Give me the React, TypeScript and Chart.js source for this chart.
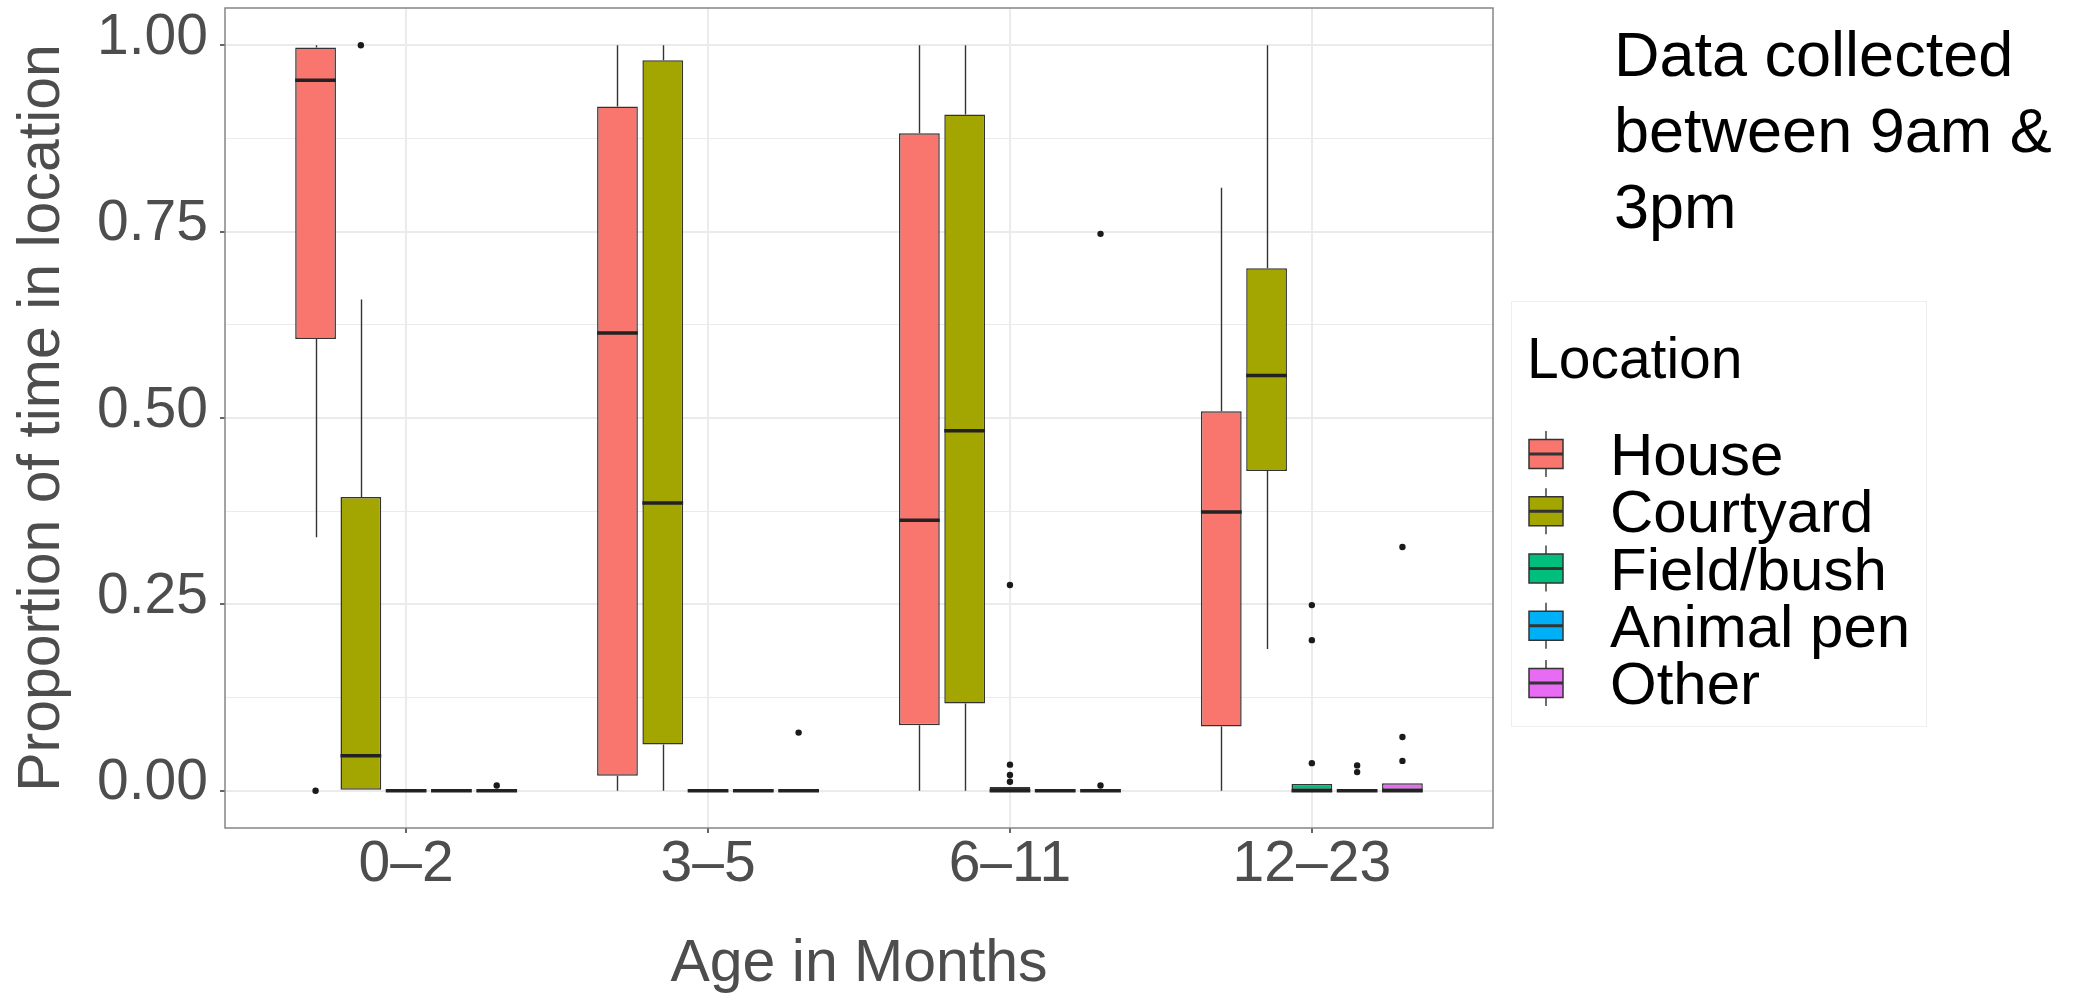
import React, { useEffect, useRef } from 'react';
import { Chart, registerables } from 'chart.js';

Chart.register(...registerables);

const AGE_GROUPS = ['0–2', '3–5', '6–11', '12–23'];
const LOCATIONS = ['House', 'Courtyard', 'Field/bush', 'Animal pen', 'Other'];
const LOCATION_COLORS = ['#F8766D', '#A3A500', '#00BF7D', '#00B0F6', '#E76BF3'];

// Box summaries per age group: [lower whisker, Q1, median, Q3, upper whisker]
const HOUSE_STATS = [
  [0.34, 0.606, 0.953, 0.997, 1.0],
  [0.0, 0.02, 0.614, 0.918, 1.0],
  [0.0, 0.088, 0.363, 0.882, 1.0],
  [0.0, 0.086, 0.374, 0.509, 0.809],
];
const COURTYARD_STATS = [
  [0.0, 0.0, 0.047, 0.394, 0.659],
  [0.0, 0.062, 0.386, 0.98, 1.0],
  [0.0, 0.117, 0.483, 0.907, 1.0],
  [0.19, 0.429, 0.557, 0.701, 1.0],
];
const FIELD_BUSH_STATS = [
  [0, 0, 0, 0, 0],
  [0, 0, 0, 0, 0],
  [0, 0, 0, 0.005, 0.005],
  [0, 0, 0, 0.009, 0.009],
];
const ANIMAL_PEN_STATS = [
  [0, 0, 0, 0, 0],
  [0, 0, 0, 0, 0],
  [0, 0, 0, 0, 0],
  [0, 0, 0, 0, 0],
];
const OTHER_STATS = [
  [0, 0, 0, 0, 0],
  [0, 0, 0, 0, 0],
  [0, 0, 0, 0, 0],
  [0, 0, 0, 0.01, 0.01],
];

// Outlying observations per age group
const HOUSE_OUTLIERS = [[0], [], [], []];
const COURTYARD_OUTLIERS = [[1.0], [], [], []];
const FIELD_BUSH_OUTLIERS = [[], [], [0.276, 0.035, 0.021, 0.012], [0.249, 0.202, 0.037]];
const ANIMAL_PEN_OUTLIERS = [[], [], [], [0.034, 0.025]];
const OTHER_OUTLIERS = [[0.007], [0.078], [0.747, 0.007], [0.327, 0.072, 0.04]];

const Y_MAJOR_TICKS = [0, 0.25, 0.5, 0.75, 1];
const Y_MINOR_TICKS = [0.125, 0.375, 0.625, 0.875];

const X_TITLE = 'Age in Months';
const Y_TITLE = 'Proportion of time in location';
const LEGEND_TITLE = 'Location';
const NOTE_LINES = ['Data collected', 'between 9am &', '3pm'];

const ALL_STATS = [HOUSE_STATS, COURTYARD_STATS, FIELD_BUSH_STATS, ANIMAL_PEN_STATS, OTHER_STATS];
const ALL_OUTLIERS = [HOUSE_OUTLIERS, COURTYARD_OUTLIERS, FIELD_BUSH_OUTLIERS, ANIMAL_PEN_OUTLIERS, OTHER_OUTLIERS];

const FONT = '"Liberation Sans", Arial, Helvetica, sans-serif';
const DODGE_STEP = 0.15;
const BOX_FILL = 0.9;
const OUTLINE = '#333333';

const dodgedX = (groupIdx: number, locIdx: number) =>
  groupIdx + 1 + (locIdx - (LOCATIONS.length - 1) / 2) * DODGE_STEP;

// whiskers under the boxes, medians on top of each box dataset
const boxWhiskerPlugin = {
  id: 'boxWhiskers',
  beforeDatasetsDraw(chart: any) {
    const { ctx, chartArea, scales } = chart;
    ctx.save();
    ctx.beginPath();
    ctx.rect(chartArea.left, chartArea.top, chartArea.right - chartArea.left, chartArea.bottom - chartArea.top);
    ctx.clip();
    ctx.strokeStyle = OUTLINE;
    ctx.lineWidth = 1.4;
    chart.data.datasets.forEach((ds: any, di: number) => {
      if (!ds.stats) return;
      const meta = chart.getDatasetMeta(di);
      meta.data.forEach((bar: any, i: number) => {
        const [lo, q1, , q3, hi] = ds.stats[i];
        const x = Math.round(bar.x) + 0.5;
        ctx.beginPath();
        ctx.moveTo(x, scales.y.getPixelForValue(lo));
        ctx.lineTo(x, scales.y.getPixelForValue(q1));
        ctx.moveTo(x, scales.y.getPixelForValue(q3));
        ctx.lineTo(x, scales.y.getPixelForValue(hi));
        ctx.stroke();
      });
    });
    ctx.restore();
  },
  afterDatasetDraw(chart: any, args: any) {
    const ds = chart.data.datasets[args.index];
    if (!ds.stats) return;
    const { ctx, scales } = chart;
    ctx.save();
    ctx.strokeStyle = '#222222';
    ctx.lineWidth = 3.5;
    args.meta.data.forEach((bar: any, i: number) => {
      const yMed = scales.y.getPixelForValue(ds.stats[i][2]);
      ctx.beginPath();
      ctx.moveTo(bar.x - bar.width / 2, yMed);
      ctx.lineTo(bar.x + bar.width / 2, yMed);
      ctx.stroke();
    });
    ctx.restore();
  },
};

// panel frame, key and side note
const decorPlugin = {
  id: 'decor',
  afterDraw(chart: any) {
    const { ctx, chartArea } = chart;
    ctx.save();
    ctx.strokeStyle = '#858585';
    ctx.lineWidth = 1.5;
    ctx.strokeRect(chartArea.left, chartArea.top, chartArea.right - chartArea.left, chartArea.bottom - chartArea.top);

    // legend
    const lx = 1511;
    const ly = 301;
    ctx.strokeStyle = '#eeeeee';
    ctx.lineWidth = 1;
    ctx.strokeRect(lx + 0.5, ly + 0.5, 415, 425);
    ctx.fillStyle = '#000000';
    ctx.textAlign = 'left';
    ctx.textBaseline = 'alphabetic';
    ctx.font = `57px ${FONT}`;
    ctx.fillText(LEGEND_TITLE, lx + 16, ly + 77);

    const boxes = chart.data.datasets.filter((d: any) => d.stats);
    boxes.forEach((d: any, i: number) => {
      const cy = 454 + i * 57.25;
      const kx = 1529;
      const kw = 34;
      const kh = 29;
      ctx.strokeStyle = OUTLINE;
      ctx.lineWidth = 1.4;
      ctx.beginPath();
      ctx.moveTo(kx + kw / 2, cy - 23);
      ctx.lineTo(kx + kw / 2, cy + 23);
      ctx.stroke();
      ctx.fillStyle = d.backgroundColor;
      ctx.fillRect(kx, cy - kh / 2, kw, kh);
      ctx.lineWidth = 1.5;
      ctx.strokeRect(kx, cy - kh / 2, kw, kh);
      ctx.lineWidth = 3;
      ctx.beginPath();
      ctx.moveTo(kx, cy);
      ctx.lineTo(kx + kw, cy);
      ctx.stroke();
      ctx.fillStyle = '#000000';
      ctx.font = `60px ${FONT}`;
      ctx.fillText(d.label, 1610, cy + 21);
    });

    // note
    ctx.font = `63px ${FONT}`;
    ctx.fillStyle = '#000000';
    NOTE_LINES.forEach((line, i) => ctx.fillText(line, 1614, 76 + i * 76));
    ctx.restore();
  },
};

export default function App() {
  const canvasRef = useRef<HTMLCanvasElement | null>(null);

  useEffect(() => {
    const canvas = canvasRef.current;
    if (!canvas) return;

    const boxDatasets = LOCATIONS.map((name, li) => ({
      type: 'bar' as const,
      label: name,
      data: ALL_STATS[li].map((s, gi) => ({ x: dodgedX(gi, li), y: [s[1], s[3]] })),
      stats: ALL_STATS[li],
      backgroundColor: LOCATION_COLORS[li],
      borderColor: OUTLINE,
      borderWidth: 1.5,
      borderSkipped: false,
      grouped: false,
      categoryPercentage: BOX_FILL,
      barPercentage: 1,
      order: 2,
    }));

    const outlierPoints = ALL_OUTLIERS.flatMap((perGroup, li) =>
      perGroup.flatMap((vals, gi) => vals.map((v) => ({ x: dodgedX(gi, li), y: v })))
    );

    const isMajor = (v: number) => Y_MAJOR_TICKS.some((t) => Math.abs(t - v) < 1e-9);

    const chart = new Chart(canvas, {
      type: 'bar',
      data: {
        datasets: [
          ...boxDatasets,
          {
            type: 'scatter' as const,
            label: 'outliers',
            data: outlierPoints,
            pointRadius: 3.2,
            pointBackgroundColor: '#1a1a1a',
            pointBorderWidth: 0,
            order: 1,
          },
        ] as any,
      },
      options: {
        responsive: false,
        devicePixelRatio: 1,
        animation: false,
        events: [],
        layout: { padding: { top: 8, right: 584, bottom: 0, left: 0 } },
        plugins: {
          legend: { display: false },
          tooltip: { enabled: false },
        },
        scales: {
          x: {
            type: 'linear',
            min: 0.4,
            max: 4.6,
            offset: false,
            afterBuildTicks: (axis: any) => {
              axis.ticks = AGE_GROUPS.map((_, i) => ({ value: i + 1 }));
            },
            afterFit: (axis: any) => {
              axis.height = 167;
              axis.paddingLeft = 0;
              axis.paddingRight = 0;
            },
            border: { display: false },
            grid: {
              offset: false,
              color: '#ebebeb',
              lineWidth: 2,
              drawTicks: true,
              tickLength: 5,
              tickColor: OUTLINE,
              tickWidth: 1.5,
            },
            ticks: {
              autoSkip: false,
              maxRotation: 0,
              padding: 4,
              color: '#4d4d4d',
              font: { family: FONT, size: 57, lineHeight: 1 },
              callback: (v: any) => AGE_GROUPS[Math.round(Number(v)) - 1] ?? '',
            },
            title: {
              display: true,
              text: X_TITLE,
              color: '#4d4d4d',
              font: { family: FONT, size: 59, lineHeight: 1 },
              padding: { top: 0, bottom: 1 },
            },
          },
          y: {
            type: 'linear',
            min: -0.05,
            max: 1.05,
            afterBuildTicks: (axis: any) => {
              axis.ticks = [...Y_MAJOR_TICKS, ...Y_MINOR_TICKS]
                .sort((a, b) => a - b)
                .map((v) => ({ value: v }));
            },
            afterFit: (axis: any) => {
              axis.width = 225;
              axis.paddingTop = 0;
              axis.paddingBottom = 0;
            },
            border: { display: false },
            grid: {
              color: '#ebebeb',
              lineWidth: (c: any) => (c.tick && isMajor(c.tick.value) ? 2 : 1.1),
              drawTicks: true,
              tickLength: 5,
              tickColor: (c: any) => (c.tick && isMajor(c.tick.value) ? OUTLINE : 'rgba(0,0,0,0)'),
              tickWidth: 1.5,
            },
            ticks: {
              padding: 12,
              labelOffset: -7,
              color: '#4d4d4d',
              font: { family: FONT, size: 57, lineHeight: 1 },
              callback: (v: any) => (isMajor(Number(v)) ? Number(v).toFixed(2) : ''),
            },
            title: {
              display: true,
              text: Y_TITLE,
              color: '#4d4d4d',
              font: { family: FONT, size: 59, lineHeight: 1 },
              padding: { top: 13, bottom: 0 },
            },
          },
        },
      } as any,
      plugins: [boxWhiskerPlugin, decorPlugin],
    });

    return () => chart.destroy();
  }, []);

  return (
    <div style={{ position: 'absolute', left: 0, top: 0, width: 2077, height: 995, background: '#ffffff' }}>
      <canvas ref={canvasRef} width={2077} height={995} style={{ display: 'block', width: 2077, height: 995 }} />
    </div>
  );
}
